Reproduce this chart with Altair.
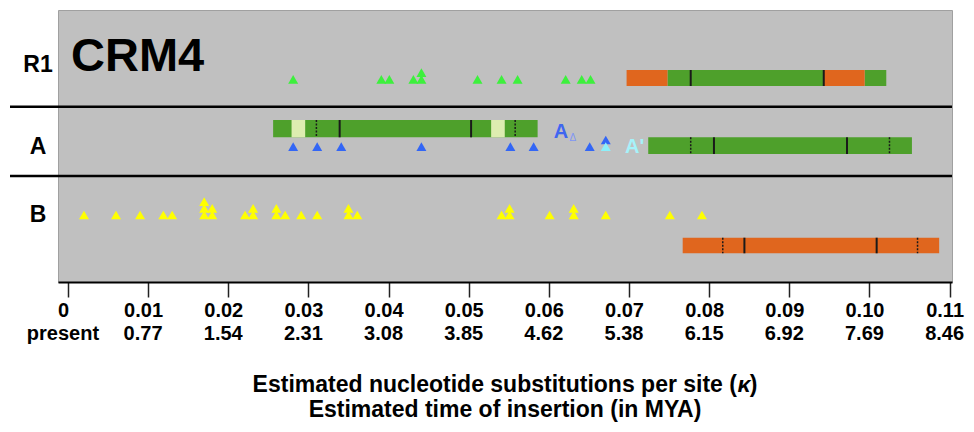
import altair as alt
import pandas as pd

# ---------------- data ----------------
x_ticks = [0, 0.01, 0.02, 0.03, 0.04, 0.05, 0.06, 0.07, 0.08, 0.09, 0.10, 0.11]
mya_labels = ["present", "0.77", "1.54", "2.31", "3.08", "3.85", "4.62",
              "5.38", "6.15", "6.92", "7.69", "8.46"]
title_line1 = "Estimated nucleotide substitutions per site ("
title_symbol = "κ"
title_close = ")"
title_line2 = "Estimated time of insertion (in MYA)"

# insertion estimates (triangles): kappa value and stack level
r1_kappa = [0.0281, 0.0391, 0.0401, 0.0431, 0.0441, 0.0441, 0.0511, 0.0541,
            0.0561, 0.0621, 0.0641, 0.0652]
r1_level = [0, 0, 0, 0, 0, 1, 0, 0, 0, 0, 0, 0]

a_kappa = [0.0281, 0.0311, 0.0341, 0.0441, 0.0552, 0.0581, 0.0651, 0.0671]
a_level = [0, 0, 0, 0, 0, 0, 0, 1]

a2_kappa = [0.0671]
a2_level = [0]

b_kappa = [0.0020, 0.0060, 0.0090, 0.0119, 0.0130,
           0.0170, 0.0170, 0.0170, 0.0180, 0.0180,
           0.0221, 0.0231, 0.0231, 0.0260, 0.0260, 0.0271,
           0.0291, 0.0311, 0.0350, 0.0350, 0.0361,
           0.0541, 0.0551, 0.0551, 0.0601, 0.0631, 0.0631,
           0.0671, 0.0751, 0.0791]
b_level = [0, 0, 0, 0, 0,
           0, 1, 2, 0, 1,
           0, 0, 1, 0, 1, 0,
           0, 0, 0, 1, 0,
           0, 0, 1, 0, 0, 1,
           0, 0, 0]

# full-length element segments: track, start, end, kind
seg_track = ["R1", "R1", "R1", "R1", "A", "A", "A", "A2", "B"]
seg_start = [0.0697, 0.0748, 0.0943, 0.0994, 0.0256, 0.0279, 0.0528, 0.0724, 0.0767]
seg_end   = [0.0748, 0.0943, 0.0994, 0.1021, 0.0586, 0.0296, 0.0545, 0.1053, 0.1087]
seg_kind  = ["LTR", "internal", "LTR", "internal", "internal", "hatch", "hatch",
             "internal", "LTR"]

# marks inside the elements: track, kappa, style
mk_track = ["R1", "R1", "A", "A", "A", "A", "A2", "A2", "A2", "A2",
            "B", "B", "B", "B"]
mk_kappa = [0.0777, 0.0943, 0.0339, 0.0503, 0.0310, 0.0558,
            0.0806, 0.0972, 0.0777, 0.1025,
            0.0844, 0.1009, 0.0817, 0.1060]
mk_style = ["solid", "solid", "solid", "solid", "dotted", "dotted",
            "solid", "solid", "dotted", "dotted",
            "solid", "solid", "dotted", "dotted"]

row_labels = ["R1", "A", "B"]

# ---------------- layout / styles ----------------
H = 272
W = 894
LANE_TRI = {"R1": 69.3, "A": 136.7, "A2": 136.7, "B": 205.0}
STACK = 6.7
LANE_BAR = {"R1": (60, 76), "A": (110, 127.3), "A2": (127.3, 144), "B": (227.7, 243.3)}
SEPARATORS = [96.7, 166]
ROW_LABEL_Y = {"R1": 55, "A": 136.7, "B": 205}
TRI_COLOR = {"R1": "#3DF03D", "A": "#3366F5", "A2": "#8CF0FA", "B": "#FFFF00"}
SEG_COLOR = {"LTR": "#E0661E", "internal": "#4EA02B", "hatch": "#DDEDB0"}

XDOM = [-0.00124, 0.1103]
xs = alt.Scale(domain=XDOM, nice=False, zero=False)
ys = alt.Scale(domain=[0, H], reverse=True, nice=False, zero=False)
FONT = "Liberation Sans"
TITLE_SIZE = 23
LABEL_SHIFT = -5

x_axis = alt.Axis(values=x_ticks,
                  labelExpr="datum.value == 0 ? '0' : format(datum.value, '.2f')",
                  title=None, grid=False, domainColor="black", domainWidth=2,
                  tickColor="#222222", tickWidth=1.5, tickSize=15,
                  labelFont=FONT, labelFontWeight="bold", labelFontSize=20,
                  labelColor="black", labelPadding=3, labelOffset=LABEL_SHIFT,
                  labelFlush=False, labelOverlap=False)

def X(field):
    return alt.X(field, scale=xs, axis=x_axis)

def Y(field):
    return alt.Y(field, scale=ys, axis=None)

layers = []

# element bars
seg_df = pd.DataFrame({"k1": seg_start, "k2": seg_end, "kind": seg_kind,
                       "y1": [LANE_BAR[t][0] for t in seg_track],
                       "y2": [LANE_BAR[t][1] for t in seg_track]})
for kind in ["internal", "LTR", "hatch"]:
    d = seg_df[seg_df.kind == kind]
    layers.append(alt.Chart(d).mark_rect(color=SEG_COLOR[kind]).encode(
        x=X("k1:Q"), x2="k2:Q", y=Y("y1:Q"), y2="y2:Q"))

# marks inside bars
mk_df = pd.DataFrame({"k": mk_kappa, "style": mk_style,
                      "y1": [LANE_BAR[t][0] for t in mk_track],
                      "y2": [LANE_BAR[t][1] for t in mk_track]})
layers.append(alt.Chart(mk_df[mk_df["style"] == "solid"]).mark_rule(
    color="#1a1a1a", strokeWidth=2).encode(x=X("k:Q"), y=Y("y1:Q"), y2="y2:Q"))
layers.append(alt.Chart(mk_df[mk_df["style"] == "dotted"]).mark_rule(
    color="#1a1a1a", strokeWidth=1.5, strokeDash=[2, 1.5]).encode(
    x=X("k:Q"), y=Y("y1:Q"), y2="y2:Q"))

# triangles
for lane, kappa, level in [("R1", r1_kappa, r1_level), ("A", a_kappa, a_level),
                           ("A2", a2_kappa, a2_level), ("B", b_kappa, b_level)]:
    d = pd.DataFrame({"k": kappa, "y": [LANE_TRI[lane] - STACK * l for l in level]})
    layers.append(alt.Chart(d).mark_point(shape="triangle-up", filled=True, size=100,
                                          opacity=1, color=TRI_COLOR[lane]).encode(
        x=X("k:Q"), y=Y("y:Q")))

# separators
layers.append(alt.Chart(pd.DataFrame({"y": SEPARATORS})).mark_rule(
    color="black", strokeWidth=2.5).encode(
    y=Y("y:Q"), x=alt.value(-48), x2=alt.value(W)))

# row labels
rows = pd.DataFrame({"label": row_labels, "y": [ROW_LABEL_Y[r] for r in row_labels]})
layers.append(alt.Chart(rows).mark_text(font=FONT, fontWeight="bold", fontSize=23,
                                        color="black", align="center",
                                        baseline="middle").encode(
    y=Y("y:Q"), x=alt.value(-20), text="label:N"))

# annotations
def note(k, y, t, size, color, weight="bold"):
    return alt.Chart(pd.DataFrame({"k": [k], "y": [y], "t": [t]})).mark_text(
        font=FONT, fontWeight=weight, fontSize=size, color=color,
        baseline="middle", align="center").encode(
        x=X("k:Q"), y=Y("y:Q"), text="t:N")

layers.append(note(0.0615, 121.7, "A", 20, "#3F66F0"))
layers.append(note(0.0630, 127.5, "Δ", 10, "#7F96F5", "normal"))
layers.append(note(0.0707, 136.7, "A'", 20, "#A6F2FA"))

layers.append(alt.Chart(pd.DataFrame({"t": ["CRM4"]})).mark_text(
    font=FONT, fontWeight="bold", fontSize=47, color="black", align="left",
    baseline="middle").encode(x=alt.value(13), y=alt.value(47), text="t:N"))

# second row of tick labels (MYA)
mya_df = pd.DataFrame({"k": x_ticks, "t": mya_labels})
layers.append(alt.Chart(mya_df).mark_text(
    font=FONT, fontWeight="bold", fontSize=20, color="black", align="center",
    baseline="middle", dx=LABEL_SHIFT).encode(x=X("k:Q"), y=alt.value(H + 52), text="t:N"))

# axis titles (two lines, kappa in italics)
CX = W / 2
L1_W = 21.06 * TITLE_SIZE       # width of the first line up to "("
TOT_W = 21.95 * TITLE_SIZE
xa = CX - TOT_W / 2 + L1_W
txt = dict(font=FONT, fontWeight="bold", fontSize=TITLE_SIZE, color="black",
           baseline="middle")
layers.append(alt.Chart(pd.DataFrame({"t": [title_line1]})).mark_text(
    align="right", **txt).encode(x=alt.value(xa), y=alt.value(H + 103), text="t:N"))
layers.append(alt.Chart(pd.DataFrame({"t": [title_symbol]})).mark_text(
    align="left", fontStyle="italic", **txt).encode(
    x=alt.value(xa + 0.5), y=alt.value(H + 103), text="t:N"))
layers.append(alt.Chart(pd.DataFrame({"t": [title_close]})).mark_text(
    align="left", **txt).encode(
    x=alt.value(xa + 0.56 * TITLE_SIZE), y=alt.value(H + 103), text="t:N"))
layers.append(alt.Chart(pd.DataFrame({"t": [title_line2]})).mark_text(
    align="center", **txt).encode(x=alt.value(CX), y=alt.value(H + 128), text="t:N"))

chart = alt.layer(*layers).properties(
    width=W, height=H,
    autosize=alt.AutoSizeParams(type="none"),
    padding={"left": 50, "top": 2, "right": 14, "bottom": 142},
    background="white",
).configure_view(fill="#C0C0C0", stroke="#A0A0A0", strokeWidth=1)

chart.save("out.html", embed_options={"renderer": "svg", "actions": False})
